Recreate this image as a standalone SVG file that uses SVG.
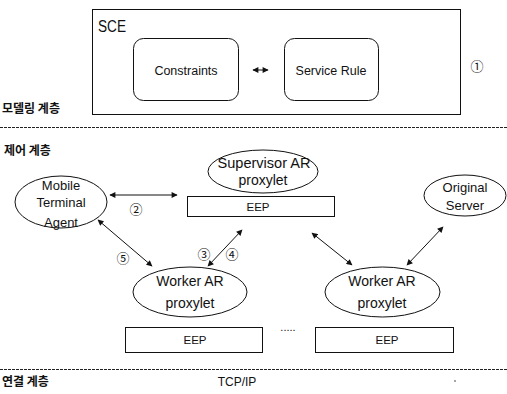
<svg xmlns="http://www.w3.org/2000/svg" width="507" height="394" viewBox="0 0 507 394">
  <style>
    .t { font-family: "Liberation Sans", Arial, sans-serif; fill: #111; text-anchor: middle; }
    .n { font-family: "Noto Sans CJK KR", "DejaVu Sans", sans-serif; fill: #111; text-anchor: middle; font-size: 13px; }
    .k { font-family: "Noto Sans CJK KR", sans-serif; font-weight: bold; fill: #111; font-size: 12px; }
    .s { fill: none; stroke: #111; stroke-width: 1; }
    .w { fill: #fff; stroke: #111; stroke-width: 1; }
    .dash { stroke: #222; stroke-width: 1; stroke-dasharray: 3 1; }
    .c { stroke: #111; stroke-width: 1; fill: none; marker-start: url(#ah); marker-end: url(#ah); }
  </style>
  <defs>
    <marker id="ah" viewBox="0 0 10 10" refX="9" refY="5" markerWidth="7" markerHeight="6" markerUnits="userSpaceOnUse" orient="auto-start-reverse">
      <path d="M0,0 L10,5 L0,10 z" fill="#111"/>
    </marker>
  </defs>
  <rect width="507" height="394" fill="#fff"/>

  <!-- layer labels and separators -->
  <g id="layers">
    <text class="k" x="2" y="113">모델링 계층</text>
    <line class="dash" x1="0" y1="127.5" x2="507" y2="127.5"/>
    <text class="k" x="4" y="155">제어 계층</text>
    <line class="dash" x1="0" y1="369.5" x2="507" y2="369.5"/>
    <text class="k" x="2" y="386">연결 계층</text>
    <text class="t" x="237" y="386" font-size="12">TCP/IP</text>
    <circle cx="455" cy="381" r="0.8" fill="#333"/>
  </g>

  <!-- modelling layer: SCE -->
  <g id="sce">
    <rect class="s" x="92.5" y="9.5" width="368" height="105"/>
    <text class="t" x="112" y="32" font-size="16" textLength="28" lengthAdjust="spacingAndGlyphs">SCE</text>
    <text class="n" x="477" y="71">①</text>
  </g>
  <g id="constraints">
    <rect class="s" x="133.5" y="38.5" width="105" height="62" rx="10"/>
    <text class="t" x="186" y="75" font-size="12.5">Constraints</text>
  </g>
  <g id="service-rule">
    <rect class="s" x="284.5" y="38.5" width="94" height="62" rx="10"/>
    <text class="t" x="331" y="75" font-size="12.5">Service Rule</text>
  </g>

  <!-- control layer -->
  <g id="mobile-terminal-agent">
    <ellipse class="w" cx="61" cy="202" rx="46" ry="26"/>
    <text class="t" x="61" y="190" font-size="13">Mobile</text>
    <text class="t" x="61" y="207" font-size="13">Terminal</text>
    <text class="t" x="61" y="227" font-size="13">Agent</text>
  </g>
  <g id="supervisor">
    <ellipse class="w" cx="263" cy="171.5" rx="55" ry="21.5"/>
    <text class="t" x="264" y="168" font-size="14" textLength="93" lengthAdjust="spacingAndGlyphs">Supervisor AR</text>
    <text class="t" x="263" y="185" font-size="14">proxylet</text>
  </g>
  <g id="supervisor-eep">
    <rect class="w" x="187.5" y="196.5" width="147" height="20"/>
    <text class="t" x="258" y="211" font-size="11.5">EEP</text>
  </g>
  <g id="original-server">
    <ellipse class="w" cx="465" cy="195.5" rx="41" ry="20.5"/>
    <text class="t" x="465" y="192" font-size="13">Original</text>
    <text class="t" x="465" y="210" font-size="13">Server</text>
  </g>
  <g id="worker-1">
    <ellipse class="w" cx="190" cy="292" rx="57" ry="25"/>
    <text class="t" x="190" y="286" font-size="14">Worker AR</text>
    <text class="t" x="190" y="308" font-size="14">proxylet</text>
  </g>
  <g id="worker-1-eep">
    <rect class="w" x="125.5" y="327.5" width="137" height="25"/>
    <text class="t" x="195" y="344" font-size="11.5">EEP</text>
  </g>
  <g id="worker-2">
    <ellipse class="w" cx="382.5" cy="292" rx="57.5" ry="25"/>
    <text class="t" x="382" y="286" font-size="14">Worker AR</text>
    <text class="t" x="382" y="308" font-size="14">proxylet</text>
  </g>
  <g id="worker-2-eep">
    <rect class="w" x="315.5" y="327.5" width="138" height="25"/>
    <text class="t" x="387" y="344" font-size="11.5">EEP</text>
  </g>
  <text class="t" x="288" y="331" font-size="11">.....</text>

  <!-- connectors -->
  <g id="connectors">
    <line class="c" x1="253" y1="70" x2="268" y2="70"/>
    <line class="c" x1="110" y1="195" x2="177" y2="195"/>
    <line class="c" x1="98" y1="220" x2="152" y2="266"/>
    <line class="c" x1="242" y1="230" x2="208" y2="266"/>
    <line class="c" x1="312" y1="233" x2="352" y2="265"/>
    <line class="c" x1="443" y1="227" x2="407" y2="265"/>
  </g>
  <g id="labels">
    <text class="n" x="136" y="214">②</text>
    <text class="n" x="204" y="259">③</text>
    <text class="n" x="232" y="259">④</text>
    <text class="n" x="123" y="263">⑤</text>
  </g>
</svg>
